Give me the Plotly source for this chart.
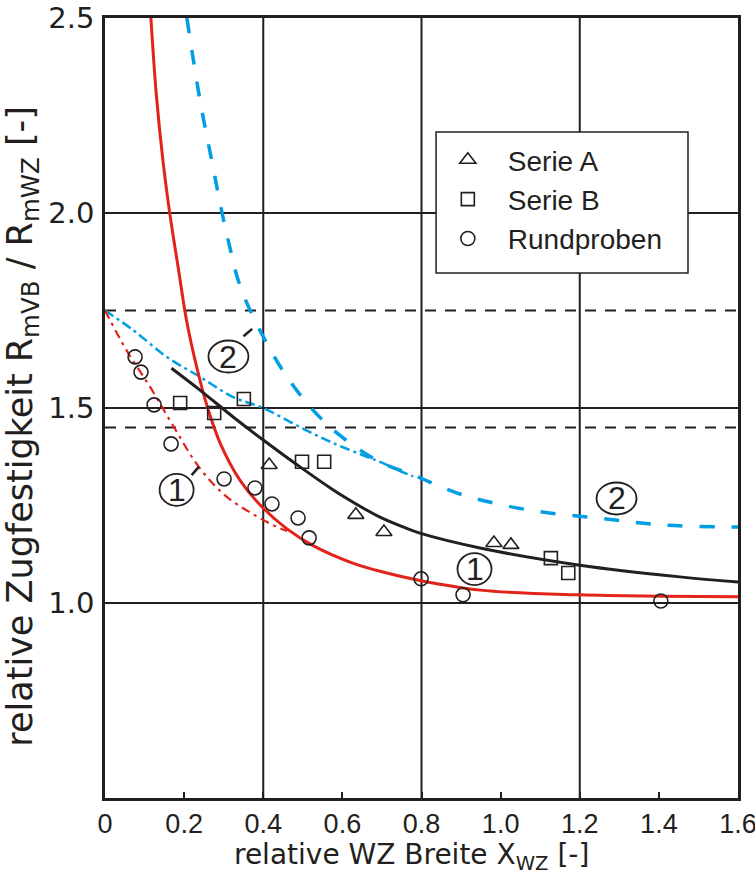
import plotly.graph_objects as go

# ---------------- data ----------------
SERIE_A_X = [0.415, 0.634, 0.705, 0.983, 1.026]
SERIE_A_Y = [1.354, 1.226, 1.182, 1.154, 1.149]

SERIE_B_X = [0.190, 0.276, 0.351, 0.498, 0.554, 1.127, 1.171]
SERIE_B_Y = [1.513, 1.487, 1.523, 1.362, 1.362, 1.115, 1.077]

RUND_X = [0.076, 0.091, 0.124, 0.167, 0.301, 0.379, 0.422, 0.488, 0.516, 0.799, 0.905, 1.405]
RUND_Y = [1.631, 1.592, 1.508, 1.408, 1.318, 1.295, 1.254, 1.218, 1.167, 1.062, 1.021, 1.005]

# curve 1 (red, solid)
RED_X = [0.116, 0.130, 0.147, 0.165, 0.185, 0.207, 0.233, 0.258, 0.291, 0.341,
         0.397, 0.460, 0.526, 0.619, 0.700, 0.799, 0.948, 1.200, 1.600]
RED_Y = [2.500, 2.300, 2.130, 1.990, 1.860, 1.720, 1.600, 1.505, 1.410, 1.315,
         1.246, 1.190, 1.147, 1.105, 1.080, 1.057, 1.033, 1.021, 1.016]

# curve 1 (red, dash-dot)
RED_DD_X = [0.000, 0.055, 0.114, 0.169, 0.240, 0.308, 0.374, 0.434, 0.460]
RED_DD_Y = [1.750, 1.647, 1.554, 1.460, 1.345, 1.272, 1.228, 1.195, 1.185]

# curve 2 (blue, dashed)
BLUE_X = [0.207, 0.240, 0.273, 0.296, 0.316, 0.333, 0.350, 0.367, 0.400, 0.450, 0.510,
          0.569, 0.645, 0.703, 0.779, 0.905, 1.074, 1.244, 1.410, 1.600]
BLUE_Y = [2.500, 2.290, 2.118, 2.000, 1.910, 1.840, 1.790, 1.750, 1.683, 1.595, 1.513,
          1.451, 1.392, 1.358, 1.328, 1.277, 1.238, 1.218, 1.200, 1.195]

# curve 2 (blue, dash-dot)
BLUE_DD_X = [0.000, 0.071, 0.156, 0.240, 0.324, 0.400, 0.493, 0.577, 0.662, 0.695, 0.746, 0.779]
BLUE_DD_Y = [1.750, 1.700, 1.631, 1.580, 1.528, 1.500, 1.451, 1.410, 1.375, 1.362, 1.338, 1.325]

# fit through the specimens (black, solid)
BLACK_X = [0.168, 0.240, 0.324, 0.400, 0.493, 0.577, 0.662, 0.695, 0.753, 0.796, 0.948,
           1.200, 1.453, 1.600]
BLACK_Y = [1.602, 1.546, 1.477, 1.418, 1.349, 1.290, 1.238, 1.220, 1.195, 1.179, 1.141,
           1.097, 1.067, 1.054]

# horizontal reference levels
LEVELS = [1.75, 1.45]
X_RANGE = [0.0, 1.6]
Y_RANGE = [0.5, 2.5]

X_TICKS = [0.0, 0.2, 0.4, 0.6, 0.8, 1.0, 1.2, 1.4, 1.6]
X_TICKTEXT = ["0", "0.2", "0.4", "0.6", "0.8", "1.0", "1.2", "1.4", "1.6"]
Y_TICKS = [1.0, 1.5, 2.0, 2.5]
Y_TICKTEXT = ["1.0", "1.5", "2.0", "2.5"]
X_GRID = [0.4, 0.8, 1.2]

# circled curve labels: (text, x, y)
LABELS = [("2", 0.312, 1.632), ("1", 0.181, 1.290), ("2", 1.293, 1.268), ("1", 0.934, 1.087)]
LABEL_W = [40, 34, 40, 34]
# leader lines from the circled labels
LEADERS = [([0.350, 0.372], [1.684, 1.703]), ([0.219, 0.237], [1.328, 1.349])]

# ---------------- styling ----------------
INK = "#231f20"
RED = "#e2231a"
BLUE = "#009fe3"
SANS = "Liberation Sans, Arial, sans-serif"
WIDE = "DejaVu Sans, sans-serif"

fig = go.Figure()

for lv in LEVELS:
    fig.add_trace(go.Scatter(x=X_RANGE, y=[lv, lv], mode="lines", showlegend=False,
                             line=dict(color=INK, width=2, dash="11px,9px"), hoverinfo="skip"))

fig.add_trace(go.Scatter(x=BLUE_DD_X, y=BLUE_DD_Y, mode="lines", showlegend=False,
                         line=dict(color=BLUE, width=2.5, dash="10px,4px,3px,4px", shape="spline")))
fig.add_trace(go.Scatter(x=RED_DD_X, y=RED_DD_Y, mode="lines", showlegend=False,
                         line=dict(color=RED, width=2.2, dash="9px,5px,3px,5px", shape="spline")))
fig.add_trace(go.Scatter(x=BLUE_X, y=BLUE_Y, mode="lines", showlegend=False,
                         line=dict(color=BLUE, width=3.5, dash="15px,17px", shape="spline")))
fig.add_trace(go.Scatter(x=RED_X, y=RED_Y, mode="lines", showlegend=False,
                         line=dict(color=RED, width=3, shape="spline")))
fig.add_trace(go.Scatter(x=BLACK_X, y=BLACK_Y, mode="lines", showlegend=False,
                         line=dict(color=INK, width=3, shape="spline")))

for lx, ly in LEADERS:
    fig.add_trace(go.Scatter(x=lx, y=ly, mode="lines", showlegend=False,
                             line=dict(color=INK, width=2.5)))

mk_line = dict(color=INK, width=1.6)
fig.add_trace(go.Scatter(x=SERIE_A_X, y=SERIE_A_Y, mode="markers", name="Serie A",
                         marker=dict(symbol="triangle-up-open", size=14, color=INK, line=mk_line)))
fig.add_trace(go.Scatter(x=SERIE_B_X, y=SERIE_B_Y, mode="markers", name="Serie B",
                         marker=dict(symbol="square-open", size=13, color=INK, line=mk_line)))
fig.add_trace(go.Scatter(x=RUND_X, y=RUND_Y, mode="markers", name="Rundproben",
                         marker=dict(symbol="circle-open", size=14, color=INK, line=mk_line)))

shapes = []
for gx in X_GRID:
    shapes.append(dict(type="line", xref="x", yref="paper", x0=gx, x1=gx, y0=0, y1=1,
                       line=dict(color=INK, width=2), layer="below"))
for (t, lx, ly), w in zip(LABELS, LABEL_W):
    shapes.append(dict(type="circle", xref="x", yref="y", xsizemode="pixel", ysizemode="pixel",
                       xanchor=lx, yanchor=ly, x0=-w / 2, x1=w / 2, y0=-16, y1=16,
                       line=dict(color=INK, width=1.8), fillcolor="rgba(0,0,0,0)"))
# legend box
shapes.append(dict(type="rect", xref="paper", yref="paper", x0=0.523, x1=0.921, y0=0.673, y1=0.854,
                   line=dict(color=INK, width=1.5), fillcolor="white", layer="above"))

annotations = []
for t, lx, ly in LABELS:
    annotations.append(dict(x=lx, y=ly, xref="x", yref="y", text=t, showarrow=False,
                            font=dict(family=SANS, size=32, color=INK),
                            xanchor="center", yanchor="middle"))
annotations.append(dict(x=-0.130, y=0.477, xref="paper", yref="paper", textangle=-90,
                        text="relative Zugfestigkeit R<sub>mVB</sub> / R<sub>mWZ</sub> [-]",
                        showarrow=False, xanchor="center", yanchor="middle",
                        font=dict(family=WIDE, size=35, color=INK)))
annotations.append(dict(x=0.484, y=-0.075, xref="paper", yref="paper",
                        text="relative WZ Breite X<sub>WZ</sub> [-]",
                        showarrow=False, xanchor="center", yanchor="middle",
                        font=dict(family=WIDE, size=28, color=INK)))

fig.update_layout(
    width=755, height=870,
    margin=dict(l=105, r=17, t=18, b=72, autoexpand=False),
    paper_bgcolor="white", plot_bgcolor="white",
    shapes=shapes, annotations=annotations,
    legend=dict(x=0.510, y=0.850, xanchor="left", yanchor="top", itemwidth=70,
                bgcolor="rgba(0,0,0,0)", borderwidth=0,
                font=dict(family=SANS, size=28, color=INK)),
    xaxis=dict(range=X_RANGE, tickvals=X_TICKS, ticktext=X_TICKTEXT, automargin=False,
               ticks="inside", ticklen=6, tickwidth=1.5, tickcolor=INK,
               showgrid=False, zeroline=False, showline=True, linecolor=INK,
               linewidth=2.5, mirror=True, ticklabelstandoff=0,
               ticklabeloverflow="allow",
               tickfont=dict(family=SANS, size=27, color=INK)),
    yaxis=dict(range=Y_RANGE, tickvals=Y_TICKS, ticktext=Y_TICKTEXT, ticks="", automargin=False,
               showgrid=True, gridcolor=INK, gridwidth=2, zeroline=False,
               showline=True, linecolor=INK, linewidth=2.5, mirror=True,
               ticklabelstandoff=2, ticklabeloverflow="allow",
               tickfont=dict(family=WIDE, size=29, color=INK)),
)

fig.write_html("out.html")
